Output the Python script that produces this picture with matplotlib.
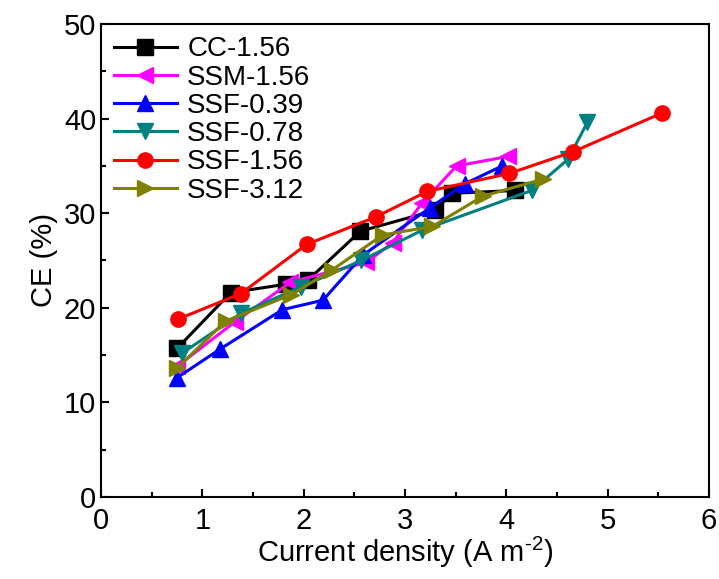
import numpy as np
import matplotlib
matplotlib.use('Agg')
import matplotlib.pyplot as plt
from matplotlib.ticker import MultipleLocator

plt.rcParams['font.family'] = ['Liberation Sans', 'DejaVu Sans']
plt.rcParams['mathtext.fontset'] = 'custom'
plt.rcParams['mathtext.rm'] = 'Liberation Sans'
plt.rcParams['mathtext.it'] = 'Liberation Sans'

# data
cc_x = [0.75, 1.28, 1.83, 2.04, 2.56, 3.30, 3.46, 4.09]
cc_y = [15.7, 21.6, 22.5, 22.9, 28.1, 30.3, 32.1, 32.4]
ssm_x = [0.75, 1.32, 1.87, 2.62, 2.88, 3.17, 3.51, 4.02]
ssm_y = [13.8, 18.5, 22.7, 24.8, 26.9, 31.1, 35.0, 36.0]
s039_x = [0.75, 1.17, 1.79, 2.19, 2.59, 3.25, 3.59, 3.96]
s039_y = [12.6, 15.6, 19.8, 20.8, 25.6, 30.6, 33.1, 35.0]
s078_x = [0.80, 1.38, 1.97, 2.57, 3.17, 4.25, 4.61, 4.80]
s078_y = [15.2, 19.4, 22.2, 25.0, 28.2, 32.4, 35.7, 39.6]
s156_x = [0.76, 1.38, 2.03, 2.71, 3.22, 4.03, 4.66, 5.54]
s156_y = [18.8, 21.5, 26.7, 29.6, 32.3, 34.2, 36.5, 40.6]
s312_x = [0.75, 1.23, 1.88, 2.28, 2.78, 3.27, 3.77, 4.36]
s312_y = [13.6, 18.6, 21.4, 24.0, 27.7, 28.6, 31.8, 33.6]

series = [
    ('CC-1.56', cc_x, cc_y, 'black', 's'),
    ('SSM-1.56', ssm_x, ssm_y, '#ff00ff', '<'),
    ('SSF-0.39', s039_x, s039_y, '#0000ff', '^'),
    ('SSF-0.78', s078_x, s078_y, '#008080', 'v'),
    ('SSF-1.56', s156_x, s156_y, '#ff0000', 'o'),
    ('SSF-3.12', s312_x, s312_y, '#808000', '>'),
]

fig = plt.figure(figsize=(7.19, 5.79), dpi=100)
ax = fig.add_axes([0.1405, 0.1416, 0.8455, 0.817])

for label, x, y, c, m in series:
    ax.plot(x, y, color=c, marker=m, markersize=11, linewidth=2.2,
            label=label)

ax.set_xlim(0, 6)
ax.set_ylim(0, 50)
ax.xaxis.set_major_locator(MultipleLocator(1))
ax.xaxis.set_minor_locator(MultipleLocator(0.5))
ax.yaxis.set_major_locator(MultipleLocator(10))
ax.yaxis.set_minor_locator(MultipleLocator(5))
ax.tick_params(which='both', direction='in', labelsize=21, width=1.5)
ax.tick_params(which='major', length=6)
ax.tick_params(which='minor', length=3.5)
ax.tick_params(axis='x', pad=7)
for s in ax.spines.values():
    s.set_linewidth(1.5)

ax.set_xlabel('Current density (A m$^{\\text{-2}}$)', fontsize=21, labelpad=0)
ax.set_ylabel('CE (%)', fontsize=21, labelpad=4)

ax.legend(loc='upper left', frameon=False, fontsize=20, handlelength=2.3,
          labelspacing=0.08, borderaxespad=0.05, handletextpad=0.35)

fig.savefig('out.png', dpi=100)
